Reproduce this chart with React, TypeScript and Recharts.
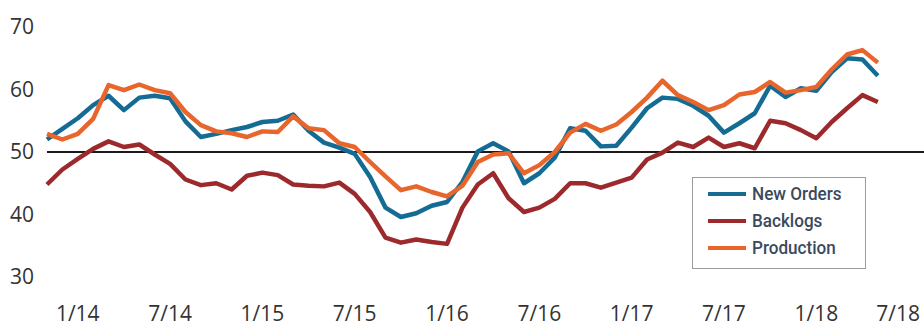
import { LineChart, Line, XAxis, YAxis, ReferenceLine } from 'recharts';

const months = [
  '11/13', '12/13',
  '1/14', '2/14', '3/14', '4/14', '5/14', '6/14', '7/14', '8/14', '9/14', '10/14', '11/14', '12/14',
  '1/15', '2/15', '3/15', '4/15', '5/15', '6/15', '7/15', '8/15', '9/15', '10/15', '11/15', '12/15',
  '1/16', '2/16', '3/16', '4/16', '5/16', '6/16', '7/16', '8/16', '9/16', '10/16', '11/16', '12/16',
  '1/17', '2/17', '3/17', '4/17', '5/17', '6/17', '7/17', '8/17', '9/17', '10/17', '11/17', '12/17',
  '1/18', '2/18', '3/18', '4/18', '5/18', '6/18', '7/18', '8/18',
];

const newOrders = [
  52.0, 53.7,
  55.4, 57.5, 59.0, 56.7, 58.7, 59.0, 58.6, 54.9, 52.4, 52.9, 53.5, 54.0,
  54.8, 55.0, 56.0, 53.4, 51.5, 50.7, 49.7, 46.0, 41.1, 39.6, 40.2, 41.4,
  42.0, 45.2, 50.1, 51.4, 50.1, 45.0, 46.6, 49.1, 53.8, 53.4, 50.9, 51.0,
  53.9, 57.0, 58.7, 58.5, 57.4, 55.8, 53.1, 54.6, 56.2, 60.6, 58.8, 60.2,
  59.8, 62.8, 65.0, 64.8, 62.2,
];

const backlogs = [
  44.8, 47.2,
  48.9, 50.5, 51.7, 50.8, 51.2, 49.6, 48.1, 45.6, 44.7, 45.0, 44.0, 46.2,
  46.7, 46.3, 44.8, 44.6, 44.5, 45.1, 43.3, 40.4, 36.3, 35.5, 36.0, 35.6,
  35.3, 41.1, 44.8, 46.6, 42.6, 40.4, 41.1, 42.5, 45.0, 45.0, 44.3, 45.1,
  45.9, 48.8, 49.9, 51.5, 50.8, 52.3, 50.8, 51.4, 50.6, 55.0, 54.6, 53.5,
  52.2, 54.8, 57.0, 59.1, 58.0,
];

const production = [
  52.9, 52.0,
  52.9, 55.3, 60.7, 59.9, 60.8, 59.9, 59.4, 56.4, 54.3, 53.3, 53.0, 52.4,
  53.3, 53.2, 55.7, 53.8, 53.5, 51.4, 50.8, 48.4, 46.1, 43.9, 44.5, 43.6,
  42.9, 44.6, 48.4, 49.6, 49.8, 46.6, 47.9, 50.0, 53.1, 54.5, 53.4, 54.4,
  56.4, 58.7, 61.4, 59.1, 58.0, 56.7, 57.5, 59.2, 59.6, 61.2, 59.5, 59.9,
  60.4, 63.2, 65.6, 66.3, 64.3,
];

const tickLabels = ['1/14', '7/14', '1/15', '7/15', '1/16', '7/16', '1/17', '7/17', '1/18', '7/18'];
const yTicks = [30, 40, 50, 60, 70];

const series = [
  { key: 'newOrders', name: 'New Orders', color: '#146c94' },
  { key: 'backlogs', name: 'Backlogs', color: '#9c2a2d' },
  { key: 'production', name: 'Production', color: '#e8652c' },
];

const data = months.map((month, i) => ({
  month,
  newOrders: newOrders[i],
  backlogs: backlogs[i],
  production: production[i],
}));

const W = 924;
const H = 327;
const tickFont = { fontFamily: '"Open Sans", sans-serif', fontSize: 21, fill: '#333' };

// only the labelled months get text; the last one is pulled in so it stays inside the frame
const MonthTick = (props: any) => {
  const { x, y, payload } = props;
  if (!tickLabels.includes(payload.value)) return <g />;
  const isLast = payload.value === tickLabels[tickLabels.length - 1];
  return (
    <text
      x={isLast ? W - 4 : x}
      y={y}
      dy="0.71em"
      textAnchor={isLast ? 'end' : 'middle'}
      {...tickFont}
    >
      {payload.value}
    </text>
  );
};

export default function App() {
  return (
    <div style={{ position: 'relative', width: W, height: H, background: '#fff' }}>
      <style>{'body{margin:0}'}</style>
      <LineChart width={W} height={H} data={data} margin={{ top: 27, right: 0, left: 0, bottom: 0 }}>
        <XAxis
          dataKey="month"
          interval={0}
          axisLine={false}
          tickLine={false}
          tickSize={0}
          tickMargin={29}
          height={50}
          tick={<MonthTick />}
        />
        <YAxis
          domain={[30, 70]}
          ticks={yTicks}
          width={47}
          axisLine={false}
          tickLine={false}
          tickSize={0}
          tickMargin={13}
          tick={tickFont}
        />
        <ReferenceLine y={50} stroke="#1a1a1a" strokeWidth={2} />
        {series.map((s) => (
          <Line
            key={s.key}
            type="linear"
            dataKey={s.key}
            name={s.name}
            stroke={s.color}
            strokeWidth={4.5}
            strokeLinejoin="round"
            dot={false}
            activeDot={false}
            isAnimationActive={false}
          />
        ))}
      </LineChart>

      {/* Legend */}
      <div
        style={{
          position: 'absolute',
          left: 692,
          top: 177,
          width: 174,
          height: 92,
          boxSizing: 'border-box',
          border: '1.5px solid #9b9b9b',
          background: '#fff',
          paddingTop: 2,
        }}
      >
        {series.map((s) => (
          <div key={s.key} style={{ display: 'flex', alignItems: 'center', height: 27, whiteSpace: 'nowrap' }}>
            <div style={{ marginLeft: 14.5, width: 38, height: 4, background: s.color, flexShrink: 0 }} />
            <span
              style={{
                marginLeft: 6,
                fontFamily: 'Roboto, sans-serif',
                fontWeight: 500,
                fontSize: 19,
                color: '#3a4a5e',
                display: 'inline-block',
                transform: 'scaleX(0.9)',
                transformOrigin: 'left center',
              }}
            >
              {s.name}
            </span>
          </div>
        ))}
      </div>
    </div>
  );
}
